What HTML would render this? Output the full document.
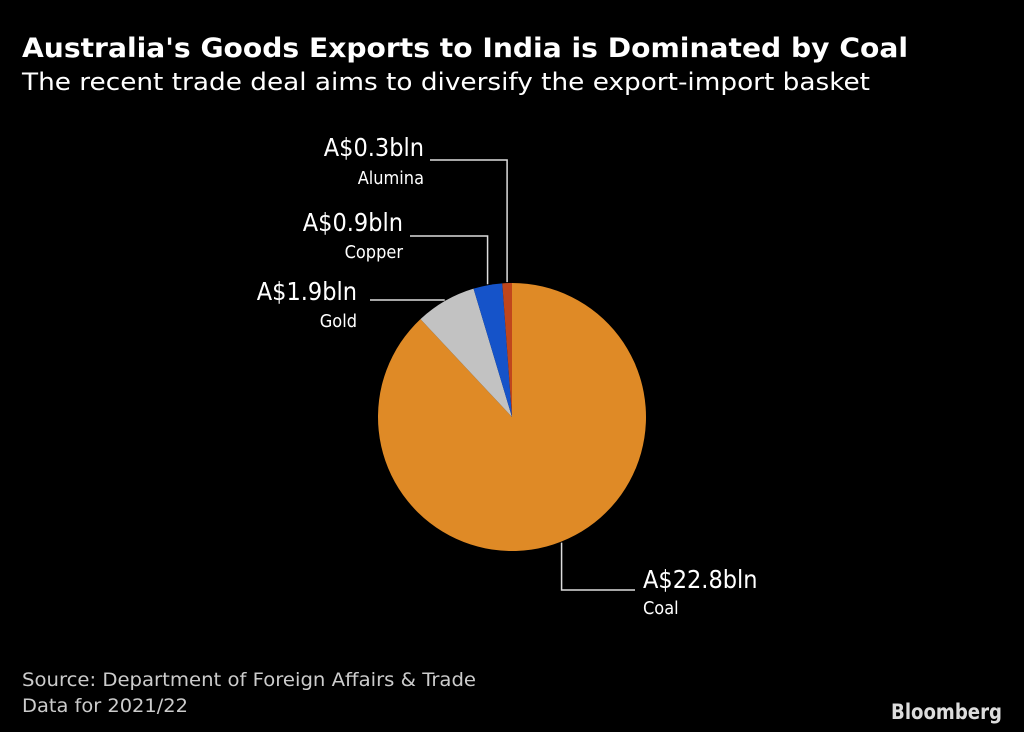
<!DOCTYPE html>
<html><head><meta charset="utf-8"><style>
body{margin:0;background:#000;width:1024px;height:732px;overflow:hidden;font-family:"DejaVu Sans","Liberation Sans",sans-serif;color:#fff}
svg{position:absolute;left:0;top:0}
</style></head><body>
<svg width="1024" height="732">
<text x="22" y="57" font-size="27" font-weight="bold" fill="#fff" textLength="886" lengthAdjust="spacingAndGlyphs">Australia's Goods Exports to India is Dominated by Coal</text>
<text x="22" y="90" font-size="24" fill="#fff" textLength="848" lengthAdjust="spacingAndGlyphs">The recent trade deal aims to diversify the export-import basket</text>
<g id="slices"></g>
<g id="labels" font-family="DejaVu Sans Condensed, Liberation Sans, sans-serif"></g>
<text x="22" y="686" font-size="19" fill="#ccc" textLength="454" lengthAdjust="spacingAndGlyphs">Source: Department of Foreign Affairs &amp; Trade</text>
<text x="22" y="712" font-size="19" fill="#ccc" textLength="166" lengthAdjust="spacingAndGlyphs">Data for 2021/22</text>
<text x="891" y="719" font-size="21" font-weight="bold" fill="#ddd" textLength="111" lengthAdjust="spacingAndGlyphs">Bloomberg</text>
</svg>
<script>
const categories=["Coal","Gold","Copper","Alumina"];
const values=[22.8,1.9,0.9,0.3];
const valueLabels=["A$22.8bln","A$1.9bln","A$0.9bln","A$0.3bln"];
const colors=["#df8a26","#c2c2c2","#1553c9","#c0461c"];
const cx=512,cy=417,r=134;
const NS="http://www.w3.org/2000/svg";
const total=values.reduce((a,b)=>a+b,0);
function pt(a,rr){return [cx+rr*Math.sin(a),cy-rr*Math.cos(a)];}
const sg=document.getElementById('slices');
let a0=0;const mids=[];
values.forEach((v,i)=>{
 const a1=a0+v/total*2*Math.PI;
 const p0=pt(a0,r),p1=pt(a1,r);
 const path=document.createElementNS(NS,'path');
 path.setAttribute('d',`M${cx},${cy}L${p0[0]},${p0[1]}A${r},${r} 0 ${a1-a0>Math.PI?1:0} 1 ${p1[0]},${p1[1]}Z`);
 path.setAttribute('fill',colors[i]);
 
 
 sg.appendChild(path);
 mids.push((a0+a1)/2);a0=a1;
});
const lg=document.getElementById('labels');
const lay=[
 {type:'down',ey:590,ex:635,tx:643,vy:588,cy2:614,anchor:'start'},
 {type:'horiz',ex:370,tx:357,vy:300,cy2:327,anchor:'end'},
 {type:'up',ey:236,ex:410,tx:403,vy:231,cy2:258,anchor:'end'},
 {type:'up',ey:160,ex:430,tx:424,vy:156,cy2:184,anchor:'end'}
];
values.forEach((v,i)=>{
 const L=lay[i];const p=pt(mids[i],r+1);let pts;
 if(L.type==='horiz')pts=[[p[0],p[1]],[L.ex,p[1]]];
 else pts=[[p[0],p[1]],[p[0],L.ey],[L.ex,L.ey]];
 const pl=document.createElementNS(NS,'polyline');
 pl.setAttribute('points',pts.map(q=>q.join(',')).join(' '));
 pl.setAttribute('fill','none');pl.setAttribute('stroke','#ddd');pl.setAttribute('stroke-width','1.5');
 
 
 lg.appendChild(pl);
 const t=document.createElementNS(NS,'text');
 t.setAttribute('x',L.tx);t.setAttribute('y',L.vy);t.setAttribute('font-size','25');t.setAttribute('fill','#fff');t.setAttribute('text-anchor',L.anchor);
 t.textContent=valueLabels[i];
 
 
 lg.appendChild(t);
 const c=document.createElementNS(NS,'text');
 c.setAttribute('x',L.tx);c.setAttribute('y',L.cy2);c.setAttribute('font-size','18');c.setAttribute('fill','#fff');c.setAttribute('text-anchor',L.anchor);
 c.textContent=categories[i];
 
 
 lg.appendChild(c);
});
</script>
</body></html>
